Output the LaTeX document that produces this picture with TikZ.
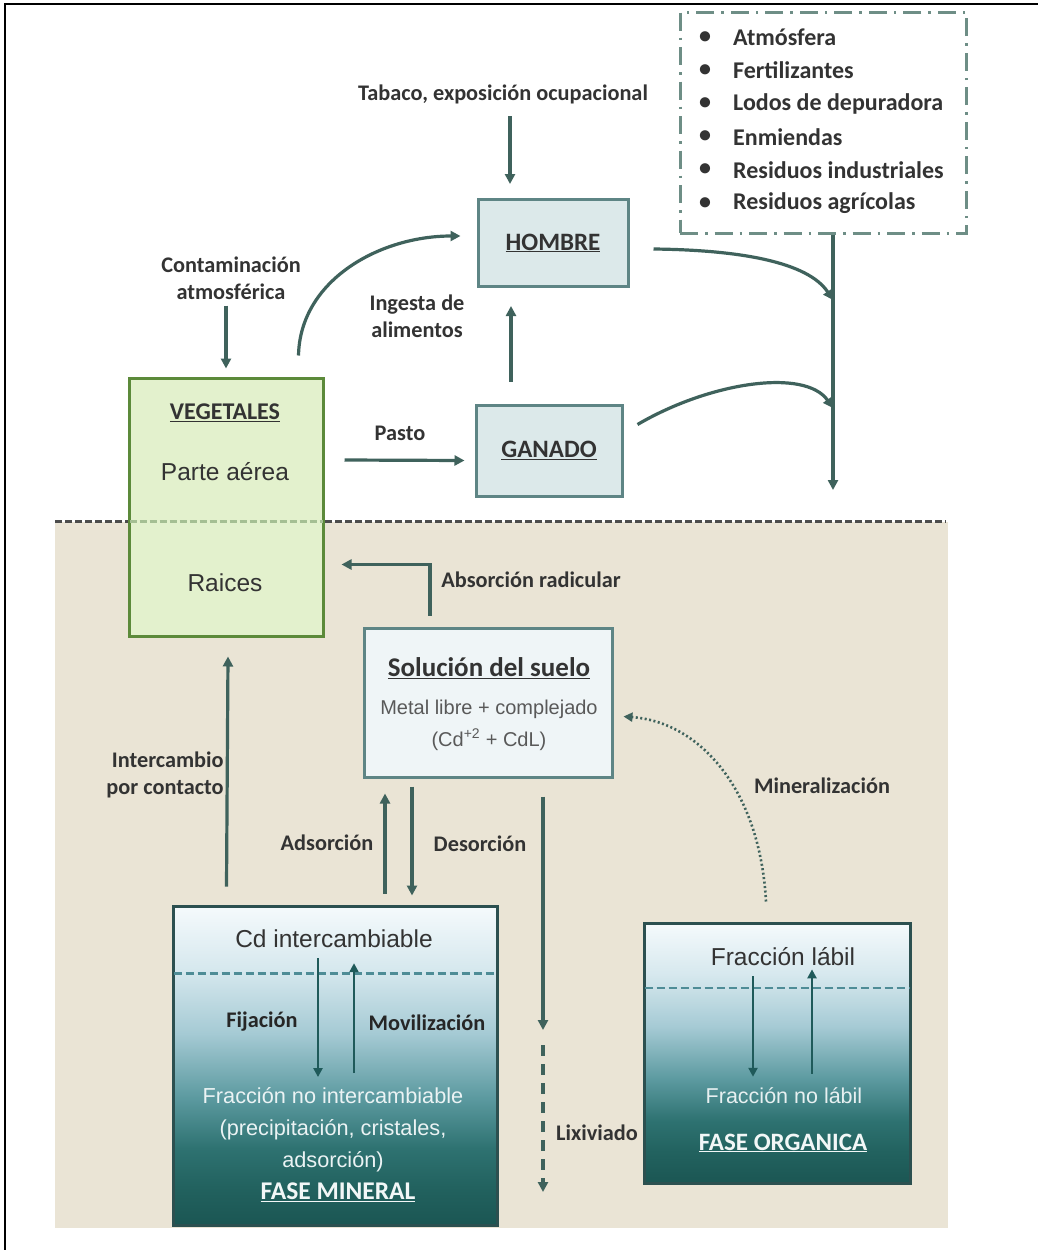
\documentclass[tikz,border=0pt]{standalone}
\usepackage{fontspec}
\setmainfont{Carlito}
\newfontfamily\arialf{Liberation Sans}
\usetikzlibrary{arrows.meta,calc}
\definecolor{arrc}{HTML}{3F625C}
\definecolor{labc}{HTML}{333333}
\definecolor{boxc}{HTML}{5E8585}
\definecolor{hfill}{HTML}{DCE9EA}
\definecolor{vfill}{HTML}{E3F1CD}
\definecolor{vbord}{HTML}{5C8A3A}
\definecolor{beige}{HTML}{EAE4D5}
\definecolor{ddc}{HTML}{6E8E86}
\definecolor{sfill}{HTML}{EFF5F7}
\definecolor{phbord}{HTML}{2C5050}
\definecolor{phdash}{HTML}{4E8C96}
\definecolor{pharr}{HTML}{1F5A5A}
\definecolor{sh0}{HTML}{1B5653}
\definecolor{sh1}{HTML}{22625F}
\definecolor{sh2}{HTML}{2E7271}
\definecolor{sh3}{HTML}{5C9AA0}
\definecolor{sh4}{HTML}{A5CAD4}
\definecolor{sh5}{HTML}{D6E8EE}
\definecolor{sh6}{HTML}{F5FAFC}
\pgfdeclareverticalshading{phase}{100bp}{color(0bp)=(sh0); color(25bp)=(sh0); color(31bp)=(sh1); color(37bp)=(sh2); color(45bp)=(sh3); color(55bp)=(sh4); color(65bp)=(sh5); color(75bp)=(sh6); color(100bp)=(sh6)}
\begin{document}
\begin{tikzpicture}[x=1pt,y=-1pt,
  arr/.style={draw=arrc, line width=3.2pt, -{Triangle[length=10pt,width=10pt]}},
  parr/.style={draw=pharr, line width=2.6pt, -{Triangle[length=9pt,width=9pt]}},
  lbl/.style={font=\fontsize{22.3}{27}\bfseries\selectfont, text=labc, align=center, inner sep=0pt},
  head/.style={font=\fontsize{25}{30}\bfseries\selectfont, text=labc, inner sep=0pt},
  plain/.style={font=\arialf\fontsize{24.5}{30}\selectfont, inner sep=0pt, align=center},
  hbox/.style={draw=boxc, line width=3pt, fill=hfill, inner sep=0pt},
  phbox/.style={draw=phbord, line width=3pt, shading=phase, inner sep=0pt}
]
\useasboundingbox (0,0) rectangle (1038,1250);
\fill[white] (0,0) rectangle (1038,1250);
% outer frame
\draw[black, line width=2pt] (5,1250) -- (5,4) -- (1038,4);
% soil background
\fill[beige] (55,522) rectangle (948,1228);
\draw[draw=black!70, line width=3pt, dash pattern=on 7pt off 3pt] (55,521) -- (946,521);

% source box
\node[draw=ddc, line width=3pt, dash pattern=on 18pt off 7pt on 2.5pt off 7pt, minimum width=286, minimum height=221, inner sep=0pt] (src) at (823,122.5) {};
\foreach \t [count=\i] in {Atmósfera,Fertilizantes,Lodos de depuradora,Enmiendas,Residuos industriales,Residuos agrícolas}{
  \node[font=\fontsize{24}{28}\bfseries\selectfont, text=labc, inner sep=0pt] (bul\i) at (705,{4+33.2*\i}) {•};
  \node[font=\fontsize{24}{28}\bfseries\selectfont, text=labc, anchor=west, inner sep=0pt] (src\i) at (733,{4+33.2*\i}) {\t};
}

% top nodes
\node[lbl] (tabaco) at (503,94) {Tabaco, exposición ocupacional};
\node[hbox, minimum width=150, minimum height=87] (hombre) at (553,243) {};
\node[head] (hombreT) at (hombre.center) {\underline{HOMBRE}};
\node[hbox, minimum width=146, minimum height=91] (ganado) at (549,450.5) {};
\node[head] (ganadoT) at (ganado.center) {\underline{GANADO}};
\node[lbl] (ingesta) at (417,316) {Ingesta de\\alimentos};
\node[lbl] (contam) at (231,278) {Contaminación\\atmosférica};
\node[lbl] (pasto) at (400,433) {Pasto};

% vegetales
\node[draw=vbord, line width=3pt, fill=vfill, minimum width=194, minimum height=258, inner sep=0pt] (veg) at (226,507) {};
\draw[draw=vbord!55!white, line width=3pt, dash pattern=on 7pt off 3pt] ($(veg.west)+(2,14)$) -- ($(veg.east)+(-2,14)$);
\node[head, font=\fontsize{24}{28}\bfseries\selectfont] (vegT) at (225,413) {\underline{VEGETALES}};
\node[plain, text=labc] (parte) at (225,472) {Parte aérea};
\node[plain, text=labc] (raices) at (225,583) {Raices};

% arrows top
\draw[arr] ($(hombre.north)+(-43,-82)$) -- ($(hombre.north)+(-43,-14)$);
\draw[arr] ($(contam.south)+(-5,6)$) -- ($(veg.north)+(0,-8)$);
\draw[arr] ($(veg.north east)+(-26,-21)$) .. controls (300,280) and (380,236) .. ($(hombre.west)+(-16,-7)$);
\draw[arr] ($(ganado.north)+(-38,-22)$) -- ($(hombre.south)+(-42,18)$);
\draw[arr] ($(veg.east)+(20,-47)$) -- ($(ganado.west)+(-10,10)$);

% right collector
\coordinate (m1) at (833,300);
\coordinate (m2) at (833,408);
\coordinate (outR) at (833,490);
\draw[arr] ($(src.south)+(10,0)$) -- (outR);
\draw[arr] ($(hombre.east)+(24,6)$) .. controls (740,250) and (808,262) .. (m1);
\draw[arr] ($(ganado.east)+(14,-26)$) .. controls (710,382) and (805,368) .. (m2);

% solucion
\node[draw=boxc, line width=3pt, fill=sfill, minimum width=248, minimum height=149, inner sep=0pt] (sol) at (488,702.5) {};
\node[head, font=\fontsize{27}{30}\bfseries\selectfont] (solT) at (489,668) {\underline{Solución del suelo}};
\node[plain, font=\arialf\fontsize{20}{32}\selectfont, text=black!65] (solM) at (489,725) {Metal libre + complejado\\(Cd\textsuperscript{+2} + CdL)};

\node[lbl] (absL) at (531,580) {Absorción radicular};
\draw[arr] ($(sol.north)+(-58,-11)$) |- ($(veg.south east)+(17,-73)$);

% phases
\node[phbox, minimum width=324, minimum height=319] (min) at (335,1065.5) {};
\node[phbox, minimum width=266, minimum height=260] (org) at (777,1053) {};
\draw[draw=phdash, line width=2.4pt, dash pattern=on 8pt off 4pt] ($(min.west)+(2,-92)$) -- ($(min.east)+(-2,-92)$);
\draw[draw=phdash, line width=2.4pt, dash pattern=on 8pt off 4pt] ($(org.west)+(2,-65)$) -- ($(org.east)+(-2,-65)$);

\node[plain, text=black!80] (cdi) at (334,939) {Cd intercambiable};
\node[plain, font=\arialf\fontsize{21.7}{32}\selectfont, text=white!88!sh3] (fni) at (333,1129.5) {Fracción no intercambiable\\(precipitación, cristales,\\adsorción)};
\node[head, font=\fontsize{25.5}{28}\bfseries\selectfont, text=white!92!sh3] (fmT) at (338,1192) {\underline{FASE MINERAL}};
\node[lbl, text=black!85] (fij) at (262,1022) {Fijación};
\node[lbl, text=black!85] (mov) at (427,1023) {Movilización};
\draw[parr] ($(cdi.south)+(-16,10)$) -- ($(fni.north)+(-15,-10)$);
\draw[parr] ($(fni.north)+(21,-14)$) -- ($(cdi.south)+(20,15)$);

\node[plain, text=black!80] (fl) at (783,957) {Fracción lábil};
\node[plain, font=\arialf\fontsize{21.5}{24}\selectfont, text=white!85!sh3] (fnl) at (784,1096) {Fracción no lábil};
\node[head, font=\fontsize{25}{28}\bfseries\selectfont, text=white!92!sh3] (foT) at (783,1143) {\underline{FASE ORGANICA}};
\draw[parr] ($(fl.south)+(-30,10)$) -- ($(fnl.north)+(-31,-11)$);
\draw[parr] ($(fnl.north)+(28,-14)$) -- ($(fl.south)+(29,3)$);

% soil arrows
\draw[arr] ($(min.north west)+(55,-18)$) -- ($(veg.south)+(2,19)$);
\node[lbl, align=right] (inter) at (165,775) {Intercambio\\por contacto};
\draw[arr] ($(min.north)+(50,-11)$) -- ($(sol.south)+(-103,15)$);
\draw[arr] ($(sol.south)+(-76,8)$) -- ($(min.north)+(77,-9)$);
\node[lbl] (ads) at (327,843) {Adsorción};
\node[lbl] (des) at (480,844) {Desorción};

\coordinate (lixA) at (543,1030);
\coordinate (lixB) at (543,1045);
\coordinate (lixEnd) at (543,1192);
\draw[arr] ($(sol.south)+(55,18)$) -- (lixA);
\draw[arr, dash pattern=on 11pt off 8pt] (lixB) -- (lixEnd);
\node[lbl] (lix) at (597,1133) {Lixiviado};

\draw[draw=arrc, line width=2.6pt, dash pattern=on 2pt off 2.5pt, -{Triangle[length=9pt,width=9pt]}] ($(org.north)+(-11,-20)$) .. controls (760,790) and (700,722) .. ($(sol.east)+(10,14)$);
\node[lbl] (mineral) at (822,786) {Mineralización};
\end{tikzpicture}
\end{document}
